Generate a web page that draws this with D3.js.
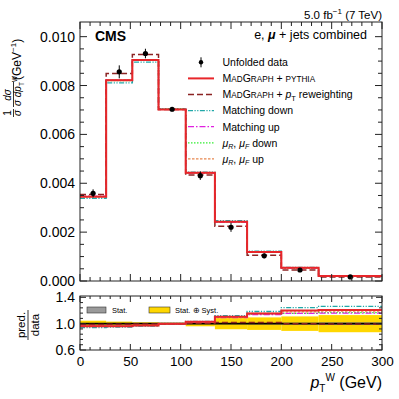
<!DOCTYPE html>
<html>
<head>
<meta charset="utf-8">
<script src="https://cdn.jsdelivr.net/npm/d3@7"></script>
<style>
body { margin: 0; background: #fff; }
svg { font-family: "Liberation Sans", Arial, Helvetica, sans-serif; }
</style>
</head>
<body>
<script>
// bin edges of pT(W) in GeV
const edges = [0, 26, 52, 78, 105, 134, 166, 200, 237, 300];

// unfolded data and relative uncertainties
const data = [0.00359, 0.00856, 0.00931, 0.00703, 0.00431, 0.00220, 0.00103, 0.00045, 0.000168];
const totUnc = [0.045, 0.031, 0.021, 0.012, 0.040, 0.085, 0.095, 0.110, 0.130];
const statUnc = [0.006, 0.005, 0.005, 0.005, 0.007, 0.009, 0.011, 0.014, 0.018];

// predictions
const madgraph = [0.00345, 0.00822, 0.00904, 0.00702, 0.00443, 0.00243, 0.00119, 0.00054, 0.000203];
const ptReweight = [0.00354, 0.00849, 0.00927, 0.00702, 0.00434, 0.00224, 0.00105, 0.00045, 0.000167];
const matchDown = [0.00338, 0.00811, 0.00896, 0.00703, 0.00446, 0.00247, 0.00122, 0.00056, 0.000212];
const matchUp = [0.00347, 0.00823, 0.00903, 0.00702, 0.00441, 0.00240, 0.00117, 0.00052, 0.000195];
const scaleDown = [0.00344, 0.00820, 0.00903, 0.00705, 0.00442, 0.00241, 0.00118, 0.00052, 0.000196];
const scaleUp = [0.00346, 0.00824, 0.00905, 0.00702, 0.00442, 0.00242, 0.00119, 0.00053, 0.000200];

const mainTicks = [0, 0.002, 0.004, 0.006, 0.008, 0.010];
const ratioTicks = [0.6, 1.0, 1.4];
const xTicks = [0, 50, 100, 150, 200, 250, 300];

const width = 399;
const height = 399;

const svg = d3.select('body').append('svg').
    attr('width', width).
    attr('height', height);

const x = d3.scaleLinear().domain([0, 300]).range([80, 382]);
const y = d3.scaleLinear().domain([0, 0.0106]).range([281, 22]);
const yr = d3.scaleLinear().domain([0.6, 1.42]).range([350, 296]);

// series drawn in back-to-front order
const series = [
    { values: scaleDown, color: '#33ee33', dash: '1.5,1.5', w: 1.3 },
    { values: matchUp, color: '#e020e0', dash: '6,2,1.5,2', w: 1.3 },
    { values: scaleUp, color: '#e8874f', dash: '2.5,1.5', w: 1.3 },
    { values: matchDown, color: '#20a8a8', dash: '5,1.5,1.2,1.5,1.2,1.5', w: 1.3 },
    { values: ptReweight, color: '#8b2323', dash: '6,3', w: 1.5 },
    { values: madgraph, color: '#e8262a', dash: null, w: 2 },
];

const stepPoints = (vals) => vals.map((v, i) => [edges[i], v]).concat([[edges[vals.length], vals[vals.length - 1]]]);

const rich = (sel, px, py, parts, fs, anchor) => {
    const t = sel.append('text').
        attr('x', px).attr('y', py).
        attr('font-size', fs).
        attr('text-anchor', anchor || 'start');
    let shift = 0;
    parts.forEach(p => {
        const s = p.shift || 0;
        const ts = t.append('tspan').text(p.t).attr('dy', s - shift);
        shift = s;
        if (p.fs) ts.attr('font-size', p.fs);
        if (p.it) ts.attr('font-style', 'italic');
        if (p.b) ts.attr('font-weight', 'bold');
    });
    return t;
};

// ---------- main panel ----------
const main = svg.append('g');

main.append('defs').append('clipPath').attr('id', 'clipMain').
    append('rect').attr('x', 80).attr('y', 22).attr('width', 302).attr('height', 259);
main.select('defs').append('clipPath').attr('id', 'clipRatio').
    append('rect').attr('x', 80).attr('y', 296).attr('width', 302).attr('height', 54);

const lineMain = d3.line().x(d => x(d[0])).y(d => y(d[1])).curve(d3.curveStepAfter);

main.append('g').attr('clip-path', 'url(#clipMain)').
    selectAll('path').data(series).enter().append('path').
    attr('d', d => lineMain(stepPoints(d.values))).
    attr('fill', 'none').
    attr('stroke', d => d.color).
    attr('stroke-width', d => d.w).
    attr('stroke-dasharray', d => d.dash);

const centers = edges.slice(0, -1).map((e, i) => (e + edges[i + 1]) / 2);

const pts = main.append('g').selectAll('g').data(data).enter().append('g');
pts.append('line').
    attr('x1', (d, i) => x(centers[i])).attr('x2', (d, i) => x(centers[i])).
    attr('y1', (d, i) => y(d * (1 + totUnc[i]))).
    attr('y2', (d, i) => y(d * (1 - totUnc[i]))).
    attr('stroke', '#000').attr('stroke-width', 1);
pts.append('circle').
    attr('cx', (d, i) => x(centers[i])).
    attr('cy', d => y(d)).
    attr('r', 2.6).attr('fill', '#000');

// ---------- ratio panel ----------
const ratio = svg.append('g');
const bins = data.map((d, i) => i);

ratio.append('g').selectAll('rect').data(bins).enter().append('rect').
    attr('x', i => x(edges[i])).attr('width', i => x(edges[i + 1]) - x(edges[i])).
    attr('y', i => yr(1 + totUnc[i])).attr('height', i => yr(1 - totUnc[i]) - yr(1 + totUnc[i])).
    attr('fill', '#ffd700');
ratio.append('g').selectAll('rect').data(bins).enter().append('rect').
    attr('x', i => x(edges[i])).attr('width', i => x(edges[i + 1]) - x(edges[i])).
    attr('y', i => yr(1 + statUnc[i])).attr('height', i => yr(1 - statUnc[i]) - yr(1 + statUnc[i])).
    attr('fill', '#9a9a9a');
ratio.append('line').
    attr('x1', x(0)).attr('x2', x(300)).attr('y1', yr(1)).attr('y2', yr(1)).
    attr('stroke', '#000').attr('stroke-width', 1.6);

const lineRatio = d3.line().x(d => x(d[0])).y(d => yr(d[1])).curve(d3.curveStepAfter);

ratio.append('g').attr('clip-path', 'url(#clipRatio)').
    selectAll('path').data(series).enter().append('path').
    attr('d', d => lineRatio(stepPoints(d.values.map((v, i) => v / data[i])))).
    attr('fill', 'none').
    attr('stroke', d => d.color).
    attr('stroke-width', d => d.w).
    attr('stroke-dasharray', d => d.dash);

// ---------- frames and ticks ----------
const frame = (g, top, bottom, yScale, majors, minors, major, minor) => {
    g.append('rect').attr('x', 80).attr('y', top).attr('width', 302).attr('height', bottom - top).
        attr('fill', 'none').attr('stroke', '#222').attr('stroke-width', 1);
    const xMaj = d3.range(0, 301, 50);
    const xMin = d3.range(0, 301, 10).filter(v => v % 50 !== 0);
    const tk = g.append('g').attr('stroke', '#222').attr('stroke-width', 1);
    xMaj.concat(xMin).forEach(v => {
        const l = v % 50 === 0 ? major : minor;
        tk.append('line').attr('x1', x(v)).attr('x2', x(v)).attr('y1', bottom).attr('y2', bottom - l);
        tk.append('line').attr('x1', x(v)).attr('x2', x(v)).attr('y1', top).attr('y2', top + l);
    });
    majors.forEach(v => {
        tk.append('line').attr('x1', 80).attr('x2', 80 + major).attr('y1', yScale(v)).attr('y2', yScale(v));
        tk.append('line').attr('x1', 382).attr('x2', 382 - major).attr('y1', yScale(v)).attr('y2', yScale(v));
    });
    minors.forEach(v => {
        tk.append('line').attr('x1', 80).attr('x2', 80 + minor).attr('y1', yScale(v)).attr('y2', yScale(v));
        tk.append('line').attr('x1', 382).attr('x2', 382 - minor).attr('y1', yScale(v)).attr('y2', yScale(v));
    });
};

frame(svg.append('g'), 22, 281, y, mainTicks,
    d3.range(0, 21).map(k => k * 0.0005).filter(v => v < 0.0106 && Math.round(v * 2000) % 4 !== 0), 7, 4);
frame(svg.append('g'), 296, 350, yr, ratioTicks,
    d3.range(0, 11).map(k => 0.6 + k * 0.08).filter(v => v < 1.42 && Math.abs(((v - 0.6) / 0.4) - Math.round((v - 0.6) / 0.4)) > 0.01), 6, 3);

// tick labels via axes
const yAxis = d3.axisLeft(y).tickValues(mainTicks).tickSize(0).tickPadding(5).tickFormat(d3.format('.3f'));
svg.append('g').attr('transform', 'translate(80,0)').call(yAxis).
    call(g => g.select('.domain').remove()).
    selectAll('text').attr('font-size', 14).attr('font-family', null).attr('fill', '#000');

const yrAxis = d3.axisLeft(yr).tickValues(ratioTicks).tickSize(0).tickPadding(5).tickFormat(d3.format('.1f'));
svg.append('g').attr('transform', 'translate(80,0)').call(yrAxis).
    call(g => g.select('.domain').remove()).
    selectAll('text').attr('font-size', 14).attr('font-family', null).attr('fill', '#000');

const xAxis = d3.axisBottom(x).tickValues(xTicks).tickSize(0).tickPadding(6).tickFormat(d3.format('d'));
svg.append('g').attr('transform', 'translate(0,350)').call(xAxis).
    call(g => g.select('.domain').remove()).
    selectAll('text').attr('font-size', 13.5).attr('font-family', null).attr('fill', '#000');

// ---------- texts ----------
svg.append('text').attr('x', 95).attr('y', 40.5).attr('font-size', 14).attr('font-weight', 'bold').text('CMS');

rich(svg, 382, 18.5, [{ t: '5.0 fb' }, { t: '\u22121', fs: 8, shift: -5 }, { t: ' (7 TeV)' }], 11.5, 'end');
rich(svg, 367, 39, [{ t: 'e, ' }, { t: '\u03bc', b: true, it: true }, { t: ' + jets combined' }], 12.5, 'end');

// axis titles
rich(svg, 382, 388, [{ t: 'p', it: true }, { t: 'T', fs: 10, shift: 4 }, { t: 'W', fs: 10, shift: -7 }, { t: ' (GeV)' }], 16, 'end');

const yl = svg.append('g').attr('transform', 'translate(21,120) rotate(-90)');
yl.append('text').attr('x', 7).attr('y', -10).attr('font-size', 10).attr('text-anchor', 'middle').text('1');
yl.append('line').attr('x1', 3).attr('x2', 11).attr('y1', -7.5).attr('y2', -7.5).attr('stroke', '#000').attr('stroke-width', 0.8);
yl.append('text').attr('x', 7).attr('y', 0).attr('font-size', 10).attr('font-style', 'italic').attr('text-anchor', 'middle').text('\u03c3');
yl.append('text').attr('x', 25).attr('y', -10).attr('font-size', 10).attr('font-style', 'italic').attr('text-anchor', 'middle').text('d\u03c3');
yl.append('line').attr('x1', 13).attr('x2', 38).attr('y1', -7.5).attr('y2', -7.5).attr('stroke', '#000').attr('stroke-width', 0.8);
rich(yl, 14, 0, [{ t: '\u03c3 dp', it: true }, { t: 'T', fs: 6.5, shift: 2.5 }, { t: 'W', fs: 6.5, shift: -4.5 }], 10, 'start');
rich(yl, 40, 0, [{ t: '(GeV' }, { t: '\u22121', fs: 8, shift: -5 }, { t: ')' }], 12, 'start');

const rl = svg.append('g').attr('transform', 'translate(28,325) rotate(-90)');
rl.append('text').attr('x', 0).attr('y', -3).attr('font-size', 11.5).attr('text-anchor', 'middle').text('pred.');
rl.append('line').attr('x1', -15).attr('x2', 15).attr('y1', 0).attr('y2', 0).attr('stroke', '#000').attr('stroke-width', 0.8);
rl.append('text').attr('x', 0).attr('y', 10.5).attr('font-size', 11.5).attr('text-anchor', 'middle').text('data');

// ---------- legend ----------
const leg = svg.append('g');
const rowY = (i) => 62.3 + 16.1 * i;
const legFs = 10.5;

leg.append('line').attr('x1', 201).attr('x2', 201).attr('y1', rowY(0) - 5).attr('y2', rowY(0) + 5).attr('stroke', '#000');
leg.append('circle').attr('cx', 201).attr('cy', rowY(0)).attr('r', 2.2).attr('fill', '#000');
rich(leg, 222.5, rowY(0) + 3.8, [{ t: 'Unfolded data' }], legFs);

const legSeries = [madgraph, ptReweight, matchDown, matchUp, scaleDown, scaleUp].
    map(v => series.find(s => s.values === v));

legSeries.forEach((s, i) => {
    leg.append('line').
        attr('x1', 188).attr('x2', 214).
        attr('y1', rowY(i + 1)).attr('y2', rowY(i + 1)).
        attr('stroke', s.color).attr('stroke-width', s.w).attr('stroke-dasharray', s.dash);
});

const sc = 8.2;
const mg = [{ t: 'M' }, { t: 'AD', fs: sc }, { t: 'G' }, { t: 'RAPH', fs: sc }];
rich(leg, 222.5, rowY(1) + 3.8, mg.concat([{ t: ' + ' }, { t: 'PYTHIA', fs: sc }]), legFs);
rich(leg, 222.5, rowY(2) + 3.8, mg.concat([{ t: ' + ' }, { t: 'p', it: true }, { t: 'T', fs: 7.5, shift: 2.5 }, { t: ' reweighting' }]), legFs);
rich(leg, 222.5, rowY(3) + 3.8, [{ t: 'Matching down' }], legFs);
rich(leg, 222.5, rowY(4) + 3.8, [{ t: 'Matching up' }], legFs);
const mu = [{ t: '\u03bc', it: true }, { t: 'R', fs: 7, it: true, shift: 2.5 }, { t: ', ' }, { t: '\u03bc', it: true }, { t: 'F', fs: 7, it: true, shift: 2.5 }];
rich(leg, 222.5, rowY(5) + 3.8, mu.concat([{ t: ' down' }]), legFs);
rich(leg, 222.5, rowY(6) + 3.8, mu.concat([{ t: ' up' }]), legFs);

// ratio legend
const rleg = svg.append('g');
rleg.append('rect').attr('x', 87).attr('y', 307).attr('width', 19).attr('height', 6).
    attr('fill', '#9a9a9a').attr('stroke', '#333').attr('stroke-width', 0.6);
rleg.append('text').attr('x', 112).attr('y', 313).attr('font-size', 7.5).text('Stat.');
rleg.append('rect').attr('x', 149).attr('y', 307).attr('width', 21).attr('height', 6).
    attr('fill', '#ffd700').attr('stroke', '#333').attr('stroke-width', 0.6);
rleg.append('text').attr('x', 175).attr('y', 313).attr('font-size', 7.5).text('Stat. \u2295 Syst.');
</script>
</body>
</html>
